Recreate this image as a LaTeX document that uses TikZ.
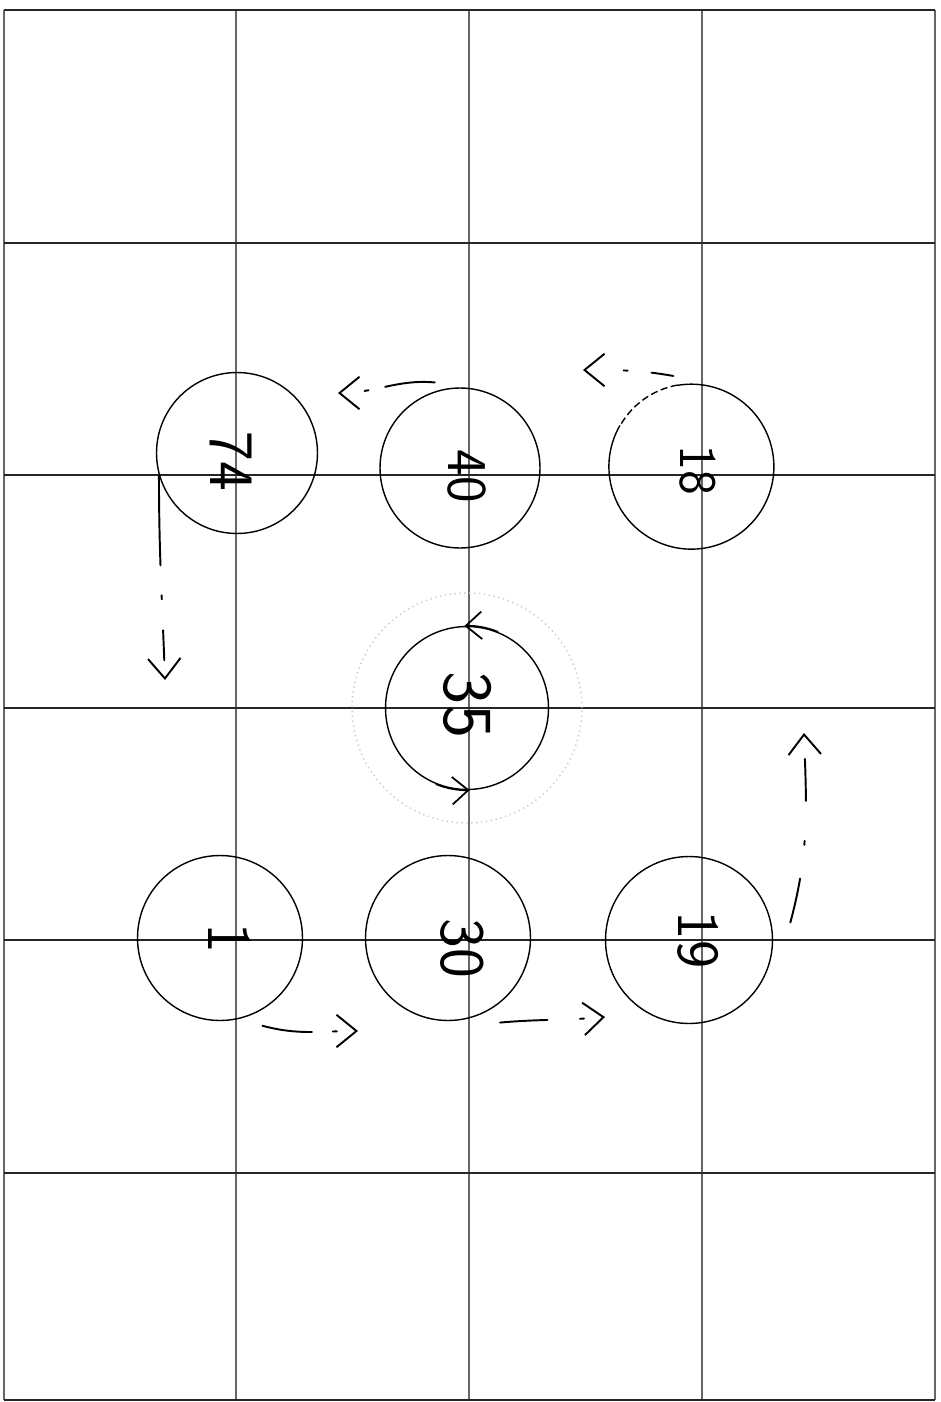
\documentclass[tikz,border=0pt]{standalone}
\usetikzlibrary{arrows.meta}
\begin{document}
\begin{tikzpicture}[x=0.02cm,y=-0.02cm,
  hgrid/.style={line width=0.9pt, black!85},
  vgrid/.style={line width=0.6pt, black!60},
  ring/.style={circle, draw, line width=0.8pt, minimum size=3.28cm, inner sep=0pt},
  lbl/.style={rotate=-90, inner sep=0pt, font=\sffamily\fontsize{#1}{#1}\selectfont},
  hand/.style={line width=1.1pt, line cap=round, -{Straight Barb[length=0.4cm, width=0.65cm, line width=1.1pt]}},
  spin/.style={line width=1pt, line cap=round, -{Straight Barb[length=0.32cm, width=0.55cm, line width=1pt]}}
]
\useasboundingbox (0,0) rectangle (940,1402);
\fill[white] (0,0) rectangle (940,1402);
% grid
\foreach \x in {4,236,469,702,935} \draw[vgrid] (\x,10) -- (\x,1400);
\foreach \y in {10,243,475,708,940,1173,1400} \draw[hgrid] (4,\y) -- (935,\y);
% faint ring
\draw[black!20, dotted, line width=0.8pt] (467,708) circle[radius=2.3cm];
% circles
\node[ring, minimum size=3.22cm] (n74) at (237,453) {};
\node[ring, minimum size=3.2cm] (n40) at (460,468) {};
\node[ring, draw=none, minimum size=3.3cm] (n18) at (692,467) {};
\draw[line width=0.8pt] (n18.150) arc[start angle=150, end angle=460, radius=1.65cm];
\draw[line width=0.8pt, dash pattern=on 4pt off 2pt] (n18.100) arc[start angle=100, end angle=150, radius=1.65cm];
\node[ring, minimum size=3.26cm] (n35) at (467,708) {};
\node[ring, minimum size=3.3cm] (n1) at (220,938) {};
\node[ring, minimum size=3.3cm] (n30) at (448,938) {};
\node[ring, minimum size=3.34cm] (n19) at (689,940) {};
% labels
\node[lbl=36] (t74) at (231,461) {74};
\node[lbl=32] (t40) at (467,476) {40};
\node[lbl=30] (t18) at (698,470) {18};
\node[lbl=40] (t35) at (468,705) {35};
\node[lbl=36] (t1) at (230,938) {1};
\node[lbl=36] (t30) at (462,948) {30};
\node[lbl=34] (t19) at (698,940) {19};
% arrow ends
\coordinate (e1) at (358,1031);
\coordinate (e2) at (605,1017);
\coordinate (e3) at (804,733);
\coordinate (e4) at (583,370);
\coordinate (e5) at (338,393);
\coordinate (e6) at (165,680);
% arrows
\draw[hand, dash pattern=on 1cm off 0.42cm on 0.08cm off 3cm]
  ([shift={(6,13)}]n1.-64) to[out=-15, in=180] (e1);
\draw[hand, dash pattern=on 0.95cm off 0.65cm on 0.08cm off 3cm]
  ([shift={(8,14)}]n30.-58) to[out=5, in=185] (e2);
\draw[hand, dash pattern=on 0.9cm off 0.68cm on 0.08cm off 0.8cm on 0.84cm off 3cm]
  ([shift={(19,0)}]n19.12) to[out=75, in=-88] (e3);
\draw[hand, dash pattern=on 0.44cm off 0.48cm on 0.08cm off 3cm]
  ([shift={(0,-10)}]n18.103) to[out=170, in=0] (e4);
\draw[hand, dash pattern=on 1cm off 0.34cm on 0.08cm off 3cm]
  ([shift={(-3,-8)}]n40.106) to[out=175, in=0] (e5);
\draw[hand, dash pattern=on 1.8cm off 0.6cm on 0.08cm off 0.62cm on 0.6cm off 3cm]
  (n74.196) to[out=-90, in=92] (e6);
% rotation marks on 35
\draw[spin] (n35.68) arc[start angle=68, end angle=92, radius=1.63cm];
\draw[spin] (n35.248) arc[start angle=248, end angle=272, radius=1.63cm];
\end{tikzpicture}
\end{document}
